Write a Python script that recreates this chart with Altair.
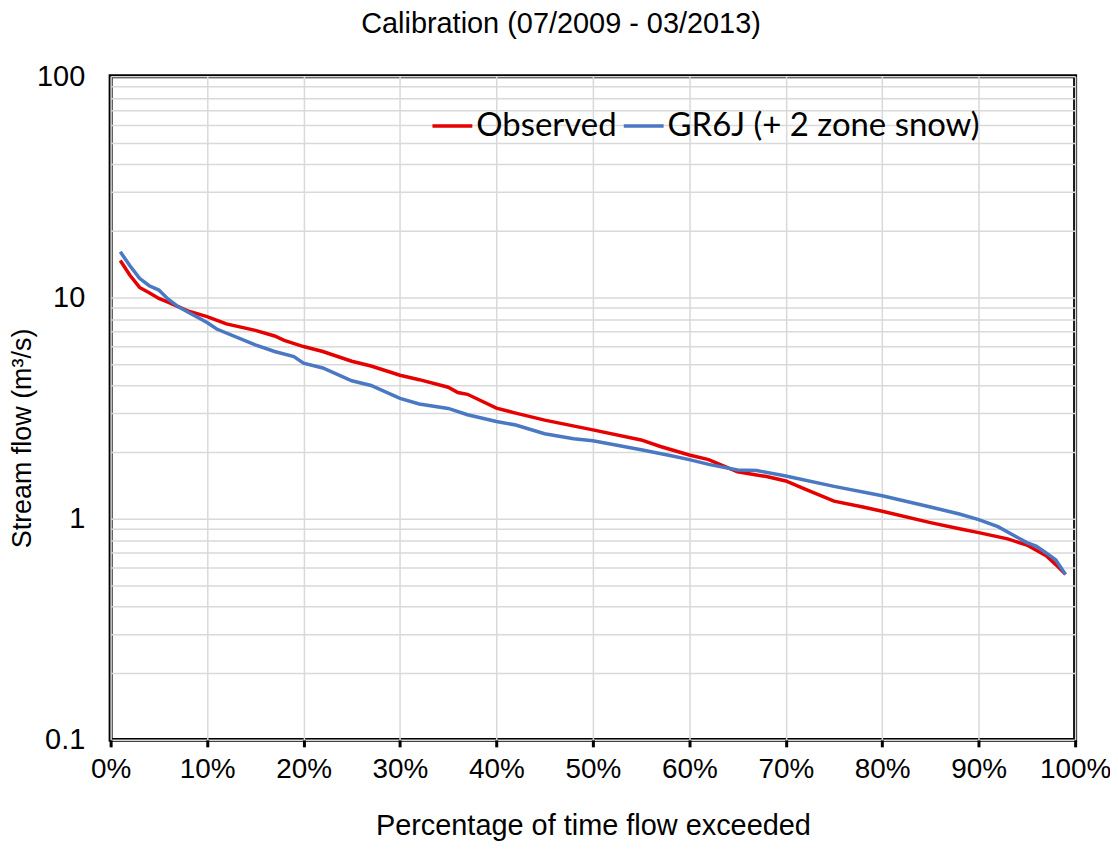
import altair as alt
import pandas as pd

TITULO = "Calibration (07/2009 - 03/2013)"
OBSERVADO = "Observed"
SIMULADO = "GR6J (+ 2 zone snow)"

COLOR_ROJO = "#e60000"
COLOR_AZUL = "#4a78c2"

# Curva observada (percentil de excedencia en %, caudal en m3/s)
pct_obs = [1, 2, 3, 4, 5, 6, 7, 8, 10, 12, 15, 17, 18, 20, 22, 25, 27, 30, 32, 35,
           36, 37, 40, 42, 45, 50, 55, 57, 60, 62, 65, 68, 70, 72, 75, 78, 80, 85,
           88, 90, 93, 95, 97, 98, 99]
caudal_obs = [14.7, 12.6, 11.1, 10.5, 9.9, 9.5, 9.1, 8.7, 8.2, 7.6, 7.1, 6.7, 6.4, 6.0,
              5.7, 5.15, 4.9, 4.45, 4.25, 3.93, 3.72, 3.65, 3.16, 3.0, 2.79, 2.52, 2.27,
              2.12, 1.94, 1.85, 1.63, 1.55, 1.48, 1.36, 1.2, 1.13, 1.08, 0.96, 0.9,
              0.865, 0.81, 0.76, 0.68, 0.62, 0.56]

# Curva simulada
pct_sim = [1, 2, 3, 4, 5, 6, 7, 8, 10, 11, 15, 17, 19, 20, 22, 25, 27, 30, 32, 35, 37,
           40, 42, 45, 48, 50, 55, 58, 60, 62, 65, 67, 70, 75, 80, 85, 88, 90, 92, 93,
           95, 96, 97, 98, 99]
caudal_sim = [16.1, 13.9, 12.2, 11.3, 10.8, 9.8, 9.1, 8.6, 7.7, 7.2, 6.1, 5.7, 5.4, 5.05,
              4.8, 4.2, 4.0, 3.5, 3.3, 3.15, 2.95, 2.75, 2.65, 2.42, 2.3, 2.25, 2.05, 1.93,
              1.85, 1.76, 1.66, 1.65, 1.56, 1.4, 1.27, 1.13, 1.05, 0.99, 0.92, 0.87, 0.78,
              0.75, 0.7, 0.65, 0.56]

ticks_x = [i / 10 for i in range(11)]
valores_y = [m * 10 ** e for e in (-1, 0, 1) for m in range(1, 10)] + [100]

df = pd.concat([
    pd.DataFrame({"pct": [p / 100 for p in pct_obs], "caudal": caudal_obs, "serie": OBSERVADO}),
    pd.DataFrame({"pct": [p / 100 for p in pct_sim], "caudal": caudal_sim, "serie": SIMULADO}),
])

FUENTE = "Liberation Sans"

chart = alt.Chart(df, title=alt.TitleParams(
    TITULO, font=FUENTE, fontSize=29, fontWeight="normal", color="black", offset=23, dx=-32,
)).mark_line(strokeWidth=3.5).encode(
    x=alt.X("pct:Q", scale=alt.Scale(domain=[0, 1], nice=False),
            axis=alt.Axis(values=ticks_x, format=".0%", title="Percentage of time flow exceeded",
                          titleFont=FUENTE, titleFontSize=29, titleFontWeight="normal",
                          titlePadding=28, labelFont=FUENTE, labelFontSize=28,
                          labelColor="black", titleColor="black", labelPadding=9,
                          labelOverlap=False, labelFlush=False,
                          tickSize=7, tickWidth=3, tickColor="black", domain=False,
                          gridColor="#d9d9d9", gridWidth=1.5)),
    y=alt.Y("caudal:Q", scale=alt.Scale(type="log", domain=[0.1, 100], nice=False),
            axis=alt.Axis(values=valores_y, format="~g",
                          labelExpr="(datum.value == 0.1 || datum.value == 1 || datum.value == 10 || datum.value == 100) ? datum.label : ''",
                          title="Stream flow (m³/s)", titleFont=FUENTE, titleFontSize=27,
                          titleFontWeight="normal", titleColor="black",
                          titleX=-88, titleY=363, titleAlign="center", titleBaseline="middle",
                          titleAngle=270,
                          labelFont=FUENTE, labelFontSize=29, labelColor="black",
                          labelPadding=26, tickSize=0, domain=False, labelOverlap=False,
                          gridColor="#d9d9d9", gridWidth=1.5)),
    color=alt.Color("serie:N", sort=[OBSERVADO, SIMULADO],
                    scale=alt.Scale(domain=[OBSERVADO, SIMULADO], range=[COLOR_ROJO, COLOR_AZUL]),
                    legend=alt.Legend(title=None, orient="none", legendX=321, legendY=28,
                                      padding=0, direction="horizontal", symbolType="stroke",
                                      symbolSize=1600, symbolStrokeWidth=3.5, labelFont="Lato",
                                      labelFontSize=33, labelColor="black", labelOffset=2,
                                      labelLimit=0, columnPadding=0, symbolOffset=0)),
).properties(
    width=968, height=666, padding={"left": 103, "top": 67, "right": 35, "bottom": 110},
    autosize=alt.AutoSizeParams(type="none"),
).configure_view(stroke="black", strokeWidth=4)

chart.save("out.html", embed_options={"renderer": "svg", "actions": False})
